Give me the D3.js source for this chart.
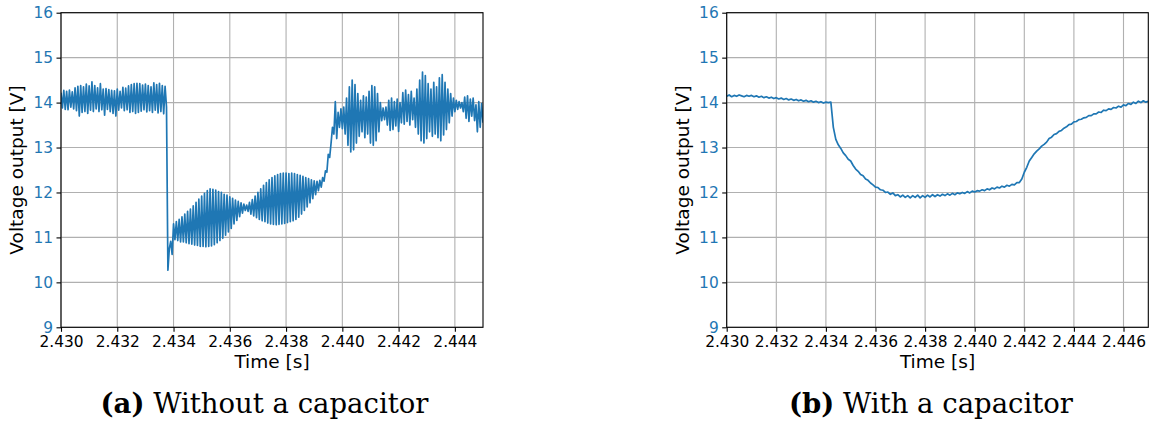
<!DOCTYPE html>
<html>
<head>
<meta charset="utf-8">
<script src="https://cdn.jsdelivr.net/npm/d3@7"></script>
<style>
body { margin: 0; background: #fff; }
svg text { font-family: "DejaVu Sans", sans-serif; }
</style>
</head>
<body>
<svg id="chart"></svg>
<script>
// sampling start of both recordings
const t0 = 2.430;

// (a) without a capacitor, one sample every 50 us
const dtNoCap = 0.00005;
const voltNoCap = [
    14.22, 13.88, 14.27, 13.85, 14.25, 13.84, 14.28, 13.90, 14.24, 13.86,
    14.33, 13.82, 14.36, 13.70, 14.38, 13.78, 14.35, 13.80, 14.41, 13.76,
    14.37, 13.83, 14.46, 13.80, 14.38, 13.86, 14.33, 13.80, 14.42, 13.84,
    14.30, 13.72, 14.31, 13.85, 14.29, 13.80, 14.27, 13.76, 14.26, 13.70,
    14.30, 13.83, 14.25, 13.88, 14.34, 13.82, 14.32, 13.84, 14.37, 13.78,
    14.40, 13.80, 14.42, 13.76, 14.43, 13.78, 14.42, 13.81, 14.39, 13.84,
    14.41, 13.79, 14.38, 13.82, 14.35, 13.78, 14.44, 13.83, 14.40, 13.77,
    14.43, 13.80, 14.38, 13.75, 14.36, 13.90, 10.27,
    10.75, 10.91, 10.62, 11.30,
    10.95, 11.35, 10.93, 11.40, 10.90, 11.46, 10.90, 11.52, 10.88, 11.58,
    10.86, 11.63, 10.85, 11.70, 10.83, 11.78, 10.82, 11.85, 10.80, 11.92,
    10.80, 11.98, 10.79, 12.04, 10.80, 12.08, 10.81, 12.07, 10.84, 12.05,
    10.88, 12.02, 10.93, 12.00, 10.98, 11.96, 11.05, 11.94, 11.12, 11.90,
    11.20, 11.87, 11.30, 11.83, 11.38, 11.80, 11.46, 11.77, 11.54, 11.74,
    11.60, 11.72, 11.58, 11.78, 11.52, 11.84, 11.48, 11.92, 11.44, 12.00,
    11.40, 12.08, 11.37, 12.16, 11.35, 12.22, 11.32, 12.28, 11.30, 12.33,
    11.29, 12.37, 11.28, 12.40, 11.29, 12.42, 11.30, 12.43, 11.31, 12.43,
    11.33, 12.42, 11.35, 12.43, 11.37, 12.42, 11.40, 12.40, 11.45, 12.38,
    11.52, 12.36, 11.60, 12.33, 11.68, 12.31, 11.77, 12.28, 11.86, 12.26,
    11.95, 12.25, 12.04, 12.27,
    12.12, 12.33, 12.25, 12.48, 12.45, 12.85, 12.78, 13.10, 13.45, 13.30, 14.02, 13.20,
    13.78, 13.45, 13.86, 13.42, 13.90, 13.30, 14.10, 13.05, 14.35, 12.90,
    14.50, 12.95, 14.40, 13.10, 14.20, 13.25, 14.05, 13.35, 14.15, 13.22,
    14.12, 13.30, 14.25, 13.10, 14.38, 13.05, 14.35, 13.15, 14.20, 13.35,
    14.00, 13.60, 13.88, 13.62, 13.90, 13.50, 14.05, 13.38, 14.10, 13.40,
    14.02, 13.48, 14.08, 13.36, 14.00, 13.55, 14.22, 13.52, 14.28, 13.58,
    14.18, 13.50, 14.25, 13.62, 14.10, 13.45, 14.30, 13.30, 14.50, 13.15,
    14.68, 13.10, 14.60, 13.20, 14.42, 13.35, 14.30, 13.25, 14.45, 13.30,
    14.35, 13.22, 14.55, 13.15, 14.62, 13.28, 14.45, 13.40, 14.30, 13.55,
    14.20, 13.70, 14.10, 13.80, 14.05, 13.85, 14.02, 13.88, 14.00, 13.80,
    14.12, 13.65, 14.15, 13.58, 14.08, 13.70, 14.10, 13.60, 13.95, 13.35,
    14.02, 13.45, 13.98, 13.55
];

// (b) with a capacitor, one sample every 100 us
const dtCap = 0.0001;
const voltCap = [
    14.14, 14.17, 14.13, 14.16, 14.14, 14.17, 14.15, 14.13, 14.16, 14.14,
    14.16, 14.13, 14.15, 14.12, 14.14, 14.11, 14.13, 14.10, 14.12, 14.09,
    14.11, 14.08, 14.10, 14.07, 14.09, 14.06, 14.08, 14.05, 14.07, 14.04,
    14.06, 14.03, 14.05, 14.02, 14.04, 14.01, 14.03, 14.00, 14.02, 13.99,
    14.01, 14.00, 14.01, 13.45, 13.18, 13.06, 12.98, 12.88, 12.82, 12.74,
    12.70, 12.60, 12.52, 12.47, 12.40, 12.37, 12.30, 12.27, 12.21, 12.17,
    12.12, 12.11, 12.06, 12.05, 12.00, 12.01, 11.96, 11.99, 11.93, 11.95,
    11.90, 11.94, 11.89, 11.93, 11.88, 11.93, 11.89, 11.94, 11.88, 11.93,
    11.89, 11.94, 11.90, 11.95, 11.91, 11.95, 11.92, 11.96, 11.93, 11.97,
    11.94, 11.98, 11.95, 11.99, 11.97, 12.00, 11.98, 12.02, 11.99, 12.03,
    12.01, 12.04, 12.03, 12.06, 12.04, 12.08, 12.06, 12.10, 12.08, 12.12,
    12.10, 12.14, 12.12, 12.16, 12.14, 12.18, 12.17, 12.22, 12.22, 12.30,
    12.45, 12.56, 12.70, 12.78, 12.86, 12.92, 12.97, 13.03, 13.07, 13.12,
    13.20, 13.23, 13.29, 13.31, 13.36, 13.38, 13.43, 13.46, 13.51, 13.52,
    13.57, 13.58, 13.62, 13.63, 13.66, 13.67, 13.71, 13.71, 13.75, 13.75,
    13.79, 13.78, 13.83, 13.82, 13.86, 13.85, 13.89, 13.88, 13.92, 13.90,
    13.95, 13.93, 13.98, 13.96, 14.01, 13.98, 14.03, 14.00, 14.04, 14.01,
    14.03
];

const xTicksNoCap = [2.430, 2.432, 2.434, 2.436, 2.438, 2.440, 2.442, 2.444];
const xTicksCap = [2.430, 2.432, 2.434, 2.436, 2.438, 2.440, 2.442, 2.444, 2.446];
const yTicks = [9, 10, 11, 12, 13, 14, 15, 16];
const captionTags = ["(a)", "(b)"];
const captionTexts = [" Without a capacitor", " With a capacitor"];

let width = 1153;
let height = 425;
let plotTop = 12.7;
let plotBottom = 327.3;
let lineColor = "#1f77b4";

let svg = d3.select("#chart").attr("width", width).attr("height", height);

function drawPanel(id, left, right, tEnd, dt, volts, xTicks, tag, text, capX) {

    let xscale = d3.scaleLinear()
        .domain([t0, tEnd])
        .range([left, right]);

    let yscale = d3.scaleLinear()
        .domain([9, 16])
        .range([plotBottom, plotTop]);

    let g = svg.append("g");

    // grid
    g.append("g").selectAll("line").data(xTicks).enter().append("line")
        .attr("x1", d => xscale(d)).attr("x2", d => xscale(d))
        .attr("y1", plotTop).attr("y2", plotBottom)
        .attr("stroke", "#b0b0b0").attr("stroke-width", 1.1);
    g.append("g").selectAll("line").data(yTicks).enter().append("line")
        .attr("x1", left).attr("x2", right)
        .attr("y1", d => yscale(d)).attr("y2", d => yscale(d))
        .attr("stroke", "#b0b0b0").attr("stroke-width", 1.1);

    svg.append("clipPath").attr("id", id)
        .append("rect")
        .attr("x", left).attr("y", plotTop)
        .attr("width", right - left).attr("height", plotBottom - plotTop);

    let line = d3.line()
        .x((d, i) => xscale(t0 + i * dt))
        .y(d => yscale(d));

    g.append("path")
        .datum(volts)
        .attr("clip-path", "url(#" + id + ")")
        .attr("fill", "none")
        .attr("stroke", lineColor)
        .attr("stroke-width", 1.7)
        .attr("stroke-linejoin", "round")
        .attr("d", line);

    // frame
    g.append("rect")
        .attr("x", left).attr("y", plotTop)
        .attr("width", right - left).attr("height", plotBottom - plotTop)
        .attr("fill", "none").attr("stroke", "#000").attr("stroke-width", 1.1);

    let xAxis = g.append("g")
        .attr("transform", "translate(0," + plotBottom + ")")
        .call(d3.axisBottom(xscale).tickValues(xTicks).tickFormat(d3.format(".3f"))
            .tickSize(4.5).tickPadding(4.5));
    xAxis.select(".domain").remove();
    xAxis.selectAll("line").attr("stroke-width", 1.1);
    xAxis.selectAll("text").attr("font-size", 15.4).attr("fill", "#000")
        .style("font-family", "DejaVu Sans");

    let yAxis = g.append("g")
        .attr("transform", "translate(" + left + ",0)")
        .call(d3.axisLeft(yscale).tickValues(yTicks).tickFormat(d3.format("d"))
            .tickSize(4.5).tickPadding(3.5));
    yAxis.select(".domain").remove();
    yAxis.selectAll("line").attr("stroke-width", 1.1);
    yAxis.selectAll("text").attr("font-size", 15.4).attr("fill", lineColor)
        .style("font-family", "DejaVu Sans");

    g.append("text")
        .attr("x", (left + right) / 2).attr("y", 368)
        .attr("text-anchor", "middle")
        .attr("font-size", 18.5)
        .text("Time [s]");

    g.append("text")
        .attr("transform", "translate(" + (left - 38) + "," + ((plotTop + plotBottom) / 2) + ") rotate(-90)")
        .attr("text-anchor", "middle")
        .attr("font-size", 18.5)
        .text("Voltage output [V]");

    let cap = g.append("text")
        .attr("x", capX).attr("y", 413)
        .attr("text-anchor", "middle")
        .style("font-family", "'DejaVu Serif', serif")
        .attr("font-size", 27.5);
    cap.append("tspan").attr("font-weight", "bold").text(tag);
    cap.append("tspan").text(text);
}

drawPanel("clipA", 61, 483, 2.445, dtNoCap, voltNoCap, xTicksNoCap, captionTags[0], captionTexts[0], 264.5);
drawPanel("clipB", 726.7, 1148.3, 2.447, dtCap, voltCap, xTicksCap, captionTags[1], captionTexts[1], 931);
</script>
</body>
</html>
